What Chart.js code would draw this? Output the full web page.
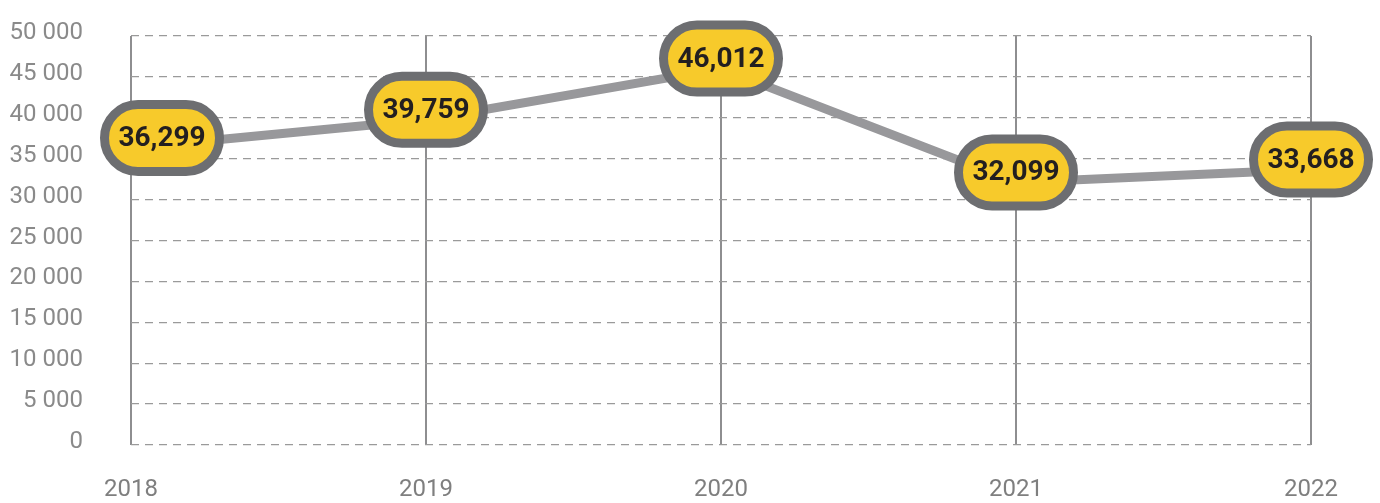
<!DOCTYPE html>
<html>
<head>
<meta charset="utf-8">
<script src="https://cdn.jsdelivr.net/npm/chart.js@4"></script>
<style>
  html, body { margin: 0; padding: 0; background: #fff; }
  #wrap { width: 1380px; height: 503px; }
</style>
</head>
<body>
<div id="wrap"><canvas id="trendChart"></canvas></div>
<script>
const years = ["2018", "2019", "2020", "2021", "2022"];
const amounts = [36299, 39759, 46012, 32099, 33668];
const yTicks = [0, 5000, 10000, 15000, 20000, 25000, 30000, 35000, 40000, 45000, 50000];

// pill shaped labels drawn over each point
const pillLabels = {
  id: "pillLabels",
  afterDatasetsDraw(chart) {
    const ctx = chart.ctx;
    const meta = chart.getDatasetMeta(0);
    const area = chart.chartArea;
    ctx.save();
    ctx.font = "bold 28px Roboto";
    meta.data.forEach((pt, i) => {
      const text = amounts[i].toLocaleString("en-US");
      const w = 124, h = 76, r = h / 2;
      const cx = Math.max(pt.x, area.left + 31);
      const cy = pt.y - 10;
      ctx.beginPath();
      ctx.roundRect(cx - w / 2 + 4.5, cy - h / 2 + 4.5, w - 9, h - 9, r - 4.5);
      ctx.fillStyle = "#f7ca2b";
      ctx.fill();
      ctx.lineWidth = 9;
      ctx.strokeStyle = "#6d6e71";
      ctx.stroke();
      ctx.fillStyle = "#231f20";
      ctx.textAlign = "center";
      ctx.textBaseline = "middle";
      ctx.fillText(text, cx, cy + 1);
    });
    ctx.restore();
  }
};

let canvasElement = document.getElementById("trendChart");
let config = {
  type: "line",
  data: {
    labels: years,
    datasets: [
      {
        data: amounts,
        borderColor: "#98989b",
        borderWidth: 9,
        pointRadius: 0,
        tension: 0,
      },
    ],
  },
  options: {
    responsive: true,
    maintainAspectRatio: false,
    animation: false,
    layout: { padding: { top: 36, right: 69, left: 0, bottom: 0 } },
    plugins: {
      legend: { display: false },
      tooltip: { enabled: false },
    },
    scales: {
      x: {
        offset: false,
        border: { display: false },
        grid: { color: "#8e8e90", lineWidth: 2, drawTicks: false },
        ticks: {
          color: "#7f7f7f",
          font: { family: "Roboto", size: 24 },
          padding: 31,
          maxRotation: 0,
        },
        afterFit: (s) => { s.height = 58; },
      },
      y: {
        min: 0,
        max: 50000,
        border: { display: false, dash: [8, 6] },
        afterBuildTicks: (s) => { s.ticks = yTicks.map((v) => ({ value: v })); },
        grid: {
          color: "#9a9a9a",
          lineWidth: 1.3,
          drawTicks: false,
        },
        ticks: {
          color: "#8a8a8a",
          font: { family: "Roboto", size: 24 },
          padding: 48,
          labelOffset: -3,
          callback: (v) => String(v).replace(/\B(?=(\d{3})+(?!\d))/g, " "),
        },
        afterFit: (s) => {
          s.width = 131;
          s.paddingTop = 0;
          s.paddingBottom = 0;
        },
      },
    },
  },
  plugins: [pillLabels],
};
let trendChart = new Chart(canvasElement, config);
</script>
</body>
</html>
